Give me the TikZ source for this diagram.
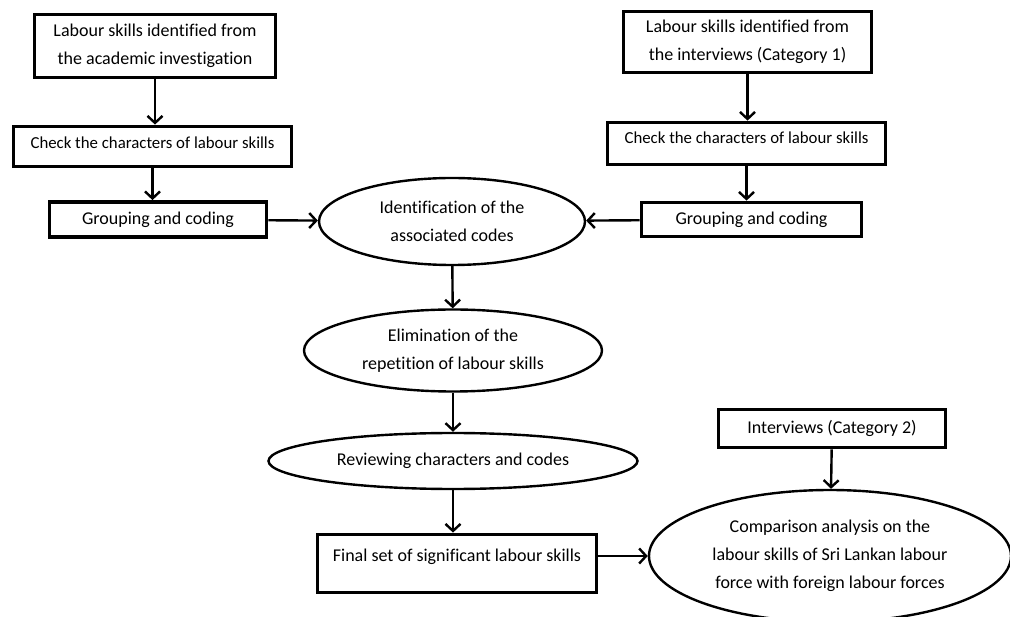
\documentclass[tikz,border=0pt]{standalone}
\usepackage{fontspec}
\setmainfont[Ligatures=CommonOff]{Carlito}
\usepackage{tikz}
\usetikzlibrary{positioning, shapes.geometric, arrows.meta}

\begin{document}
\begin{tikzpicture}[x=1pt,y=1pt]
	\tikzstyle{box}=[rectangle,draw=black,line width=3.8pt,inner sep=0pt,align=center,font=\fontsize{18}{28}\selectfont]
	\tikzstyle{checkbox}=[box,font=\fontsize{16.8}{26}\selectfont]
	\tikzstyle{oval}=[ellipse,draw=black,line width=2.4pt,inner sep=0pt,align=center,font=\fontsize{18}{28}\selectfont]
	\tikzstyle{flow}=[line width=2.4pt,-{Straight Barb[length=7pt,width=15pt]}]
	\useasboundingbox (0,0) rectangle (1010,-617);
	\clip (0,0) rectangle (1010,-617);
	% left column
	\node[box,minimum width=241,minimum height=63](a1) at (155,-46){Labour skills identified from\\the academic investigation};
	\node[checkbox,minimum width=278,minimum height=40,text depth=8pt](a2) at (152.5,-146.5){Check the characters of labour skills};
	\node[box,minimum width=217,minimum height=35](a3) at (158,-219.5){Grouping and coding};
	% right column
	\node[checkbox,minimum width=278,minimum height=42,text depth=12pt](b2) at (746.5,-143.5){Check the characters of labour skills};
	\node[box,minimum width=248,minimum height=61](b1) at (747.5,-42){Labour skills identified from\\the interviews (Category 1)};
	\node[box,minimum width=220,minimum height=34](b3) at (751.5,-219.5){Grouping and coding};
	% middle
	\node[oval,minimum width=266,minimum height=87](e1) at (452,-221.5){Identification of the\\associated codes};
	\node[oval,minimum width=298,minimum height=82](e2) at (453,-350.5){Elimination of the\\repetition of labour skills};
	\node[oval,minimum width=369,minimum height=56](e3) at (453,-461){Reviewing characters and codes};
	\node[box,minimum width=279,minimum height=58,text depth=17pt](f) at (457,-563.5){Final set of significant labour skills};
	\node[box,minimum width=227,minimum height=38](i2) at (832,-428.5){Interviews (Category 2)};
	\node[oval,minimum width=362,minimum height=132](e4) at (830,-556){Comparison analysis on the\\labour skills of Sri Lankan labour\\force with foreign labour forces};
	\path[flow]
		(a1) edge (a1 |- a2.north)
		(a2) edge (a2 |- a3.north)
		(a3) edge (e1)
		(b1) edge (b1 |- b2.north)
		(b2) edge (b2 |- b3.north)
		(b3) edge (e1)
		(e1) edge (e2)
		(e2) edge (e3)
		(e3) edge (e3 |- f.north)
		(f.east |- e4.west) edge (e4)
		(i2) edge (e4);
\end{tikzpicture}
\end{document}
